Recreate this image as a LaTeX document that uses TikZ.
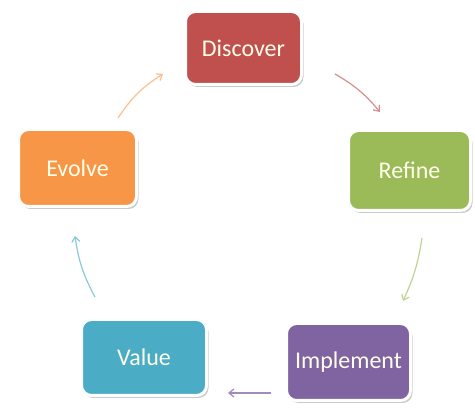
\documentclass[tikz,border=0pt]{standalone}
\usepackage{fontspec}
\setmainfont{Carlito}
\usetikzlibrary{shadows,arrows.meta}
\definecolor{cRed}{HTML}{C0504D}
\definecolor{cGreen}{HTML}{9BBB59}
\definecolor{cPurple}{HTML}{8064A2}
\definecolor{cTeal}{HTML}{4BACC6}
\definecolor{cOrange}{HTML}{F79646}
\tikzset{
  stage/.style={draw=white, line width=3pt, rounded corners=10pt,
    text=white!92!yellow, font=\fontsize{24}{28}\selectfont,
    drop shadow={shadow xshift=2pt, shadow yshift=-2.5pt, opacity=0.35, fill=black!60},
    inner sep=0pt},
  flow/.style={line width=1.2pt, -{Straight Barb[length=5pt,width=8pt]}}
}
\begin{document}
\begin{tikzpicture}[x=1pt,y=-1pt]
  \useasboundingbox (0,0) rectangle (475,411);
  % process stages
  \node[stage, fill=cRed,    minimum width=116pt, minimum height=73pt] (disc) at (243.5,48)  {Discover};
  \node[stage, fill=cGreen,  minimum width=122pt, minimum height=80pt] (refi) at (409.5,170.5) {Refine};
  \node[stage, fill=cPurple, minimum width=124pt, minimum height=77pt] (impl) at (348.5,362) {Implement};
  \node[stage, fill=cTeal,   minimum width=125pt, minimum height=76pt] (valu) at (144,357.5) {Value};
  \node[stage, fill=cOrange, minimum width=118pt, minimum height=77pt] (evol) at (77.5,168)  {Evolve};
  % arrow end points in the gaps between stages
  \coordinate (a1s) at (118,118);  \coordinate (a1e) at (163,74);
  \coordinate (a2s) at (335,74);   \coordinate (a2e) at (380,112);
  \coordinate (a3s) at (422,238);  \coordinate (a3e) at (403,301);
  \coordinate (a4s) at (271,393);  \coordinate (a4e) at (228,393);
  \coordinate (a5s) at (95,297);   \coordinate (a5e) at (75,236);
  % cycle arrows
  \draw[flow, draw=cOrange!60]  (a1s) to[bend left=12] (a1e);
  \draw[flow, draw=cRed!65]     (a2s) to[bend left=10] (a2e);
  \draw[flow, draw=cGreen!65]   (a3s) to[bend left=8]  (a3e);
  \draw[flow, draw=cPurple!75]  (a4s) -- (a4e);
  \draw[flow, draw=cTeal!65]    (a5s) to[bend left=10] (a5e);
\end{tikzpicture}
\end{document}
